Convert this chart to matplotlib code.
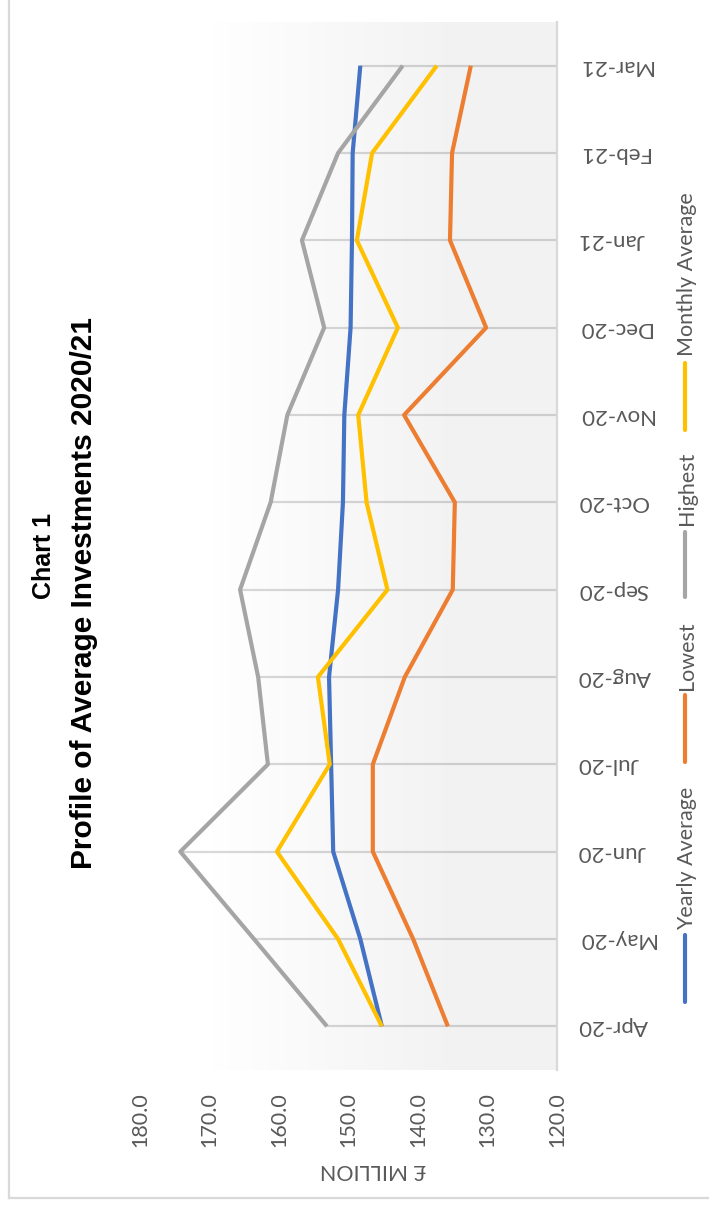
import numpy as np
import matplotlib
matplotlib.use("Agg")
import matplotlib.pyplot as plt
from matplotlib.lines import Line2D

# ---- data -------------------------------------------------------------
months = ["Apr-20", "May-20", "Jun-20", "Jul-20", "Aug-20", "Sep-20",
          "Oct-20", "Nov-20", "Dec-20", "Jan-21", "Feb-21", "Mar-21"]
yearly_average = [145.2, 148.3, 152.2, 152.5, 152.8, 151.5,
                  150.8, 150.6, 149.7, 149.5, 149.4, 148.3]
lowest = [135.7, 140.7, 146.5, 146.5, 141.9, 135.0,
          134.7, 142.0, 130.2, 135.4, 135.1, 132.4]
highest = [153.1, 163.6, 174.2, 161.6, 163.0, 165.6,
           161.2, 158.8, 153.5, 156.7, 151.5, 142.2]
monthly_average = [145.2, 151.5, 160.3, 152.7, 154.4, 144.4,
                   147.4, 148.6, 142.9, 148.8, 146.6, 137.3]
value_ticks = [180.0, 170.0, 160.0, 150.0, 140.0, 130.0, 120.0]

series = [
    ("Yearly Average", yearly_average, "#4472C4"),
    ("Lowest", lowest, "#ED7D31"),
    ("Highest", highest, "#A5A5A5"),
    ("Monthly Average", monthly_average, "#FFC000"),
]

# ---- figure -----------------------------------------------------------
W, H = 709, 1207
fig = plt.figure(figsize=(W / 100, H / 100), dpi=100, facecolor="white",
                 edgecolor="white", linewidth=0)


def fx(px):
    return px / W


def fy(py):
    return 1 - py / H


TXT = "#595959"
FONT = "Lato"

ax = fig.add_axes([fx(140), fy(1070), fx(557) - fx(140), fy(22) - fy(1070)])
ax.set_xlim(180, 120)
ax.set_ylim(-0.5, len(months) - 0.5)
ax.set_facecolor("none")
ax.patch.set_edgecolor("none")

# plot-area fill: soft horizontal gradient built from thin vertical strips
n_strips = 80
edges = np.linspace(0.149, 1.0, n_strips + 1)
for a, b in zip(edges[:-1], edges[1:]):
    t = min(((a + b) / 2 - 0.149) / (0.851 * 0.7), 1.0)
    g = 1.0 - t * (1.0 - 0.949)
    ax.axvspan(180 - a * 60, 180 - b * 60 - 0.02, color=(g, g, g), lw=0,
               zorder=0)

for name, sp in ax.spines.items():
    sp.set_visible(name == "right")
ax.spines["right"].set_color("#d9d9d9")
ax.spines["right"].set_linewidth(1.6)

# drop lines from the highest point of each month to the category axis
ypos = np.arange(len(months))
tops = np.max(np.vstack([s[1] for s in series]), axis=0)
ax.hlines(ypos, tops, 120, colors="black", alpha=0.15, lw=1.6, zorder=1)

for name, vals, col in series:
    ax.plot(vals, ypos, color=col, lw=3.0, solid_joinstyle="round",
            solid_capstyle="butt", zorder=3)

# value axis labels (bottom)
ax.set_xticks(value_ticks)
ax.set_xticklabels([f"{v:.1f}" for v in value_ticks], rotation=90,
                   fontsize=15.5, color=TXT, family=FONT)
ax.tick_params(axis="x", length=0, pad=16)

# category labels (right)
ax.set_yticks(ypos)
ax.set_yticklabels(months, rotation=180, fontsize=16, color=TXT,
                   family=FONT, ha="left", va="center")
ax.yaxis.tick_right()
ax.tick_params(axis="y", length=0, pad=15)

# axis title
fig.text(fx(373), fy(1170), "£ MILLION", rotation=180, ha="center",
         va="center", fontsize=15.5, color=TXT, family=FONT)

# chart title
fig.text(fx(44), fy(556), "Chart 1", rotation=90, ha="center", va="center",
         fontsize=18, fontweight="bold", family="Liberation Sans", color="black")
fig.text(fx(84), fy(593), "Profile of Average Investments 2020/21",
         rotation=90, ha="center", va="center", fontsize=21.5,
         fontweight="bold", family="Liberation Sans", color="black")

# legend
legend_spec = [(1002, 935, 930), (762, 695, 690), (597, 532, 525), (430, 363, 356)]
for (name, vals, col), (l0, l1, t0) in zip(series, legend_spec):
    fig.add_artist(Line2D([fx(685), fx(685)], [fy(l0), fy(l1)], color=col,
                          lw=3.0, solid_capstyle="round",
                          transform=fig.transFigure))
    fig.text(fx(687), fy(t0), name, rotation=90, ha="center", va="bottom",
             fontsize=15.5, color=TXT, family=FONT)

# chart border (left and bottom edges)
fig.add_artist(Line2D([fx(9), fx(9)], [fy(0), fy(1198)],
                      color="#d9d9d9", lw=1.6, transform=fig.transFigure))
fig.add_artist(Line2D([fx(9), fx(709)], [fy(1198), fy(1198)],
                      color="#d9d9d9", lw=1.6, transform=fig.transFigure))

fig.savefig("out.png", dpi=100, facecolor="white")
